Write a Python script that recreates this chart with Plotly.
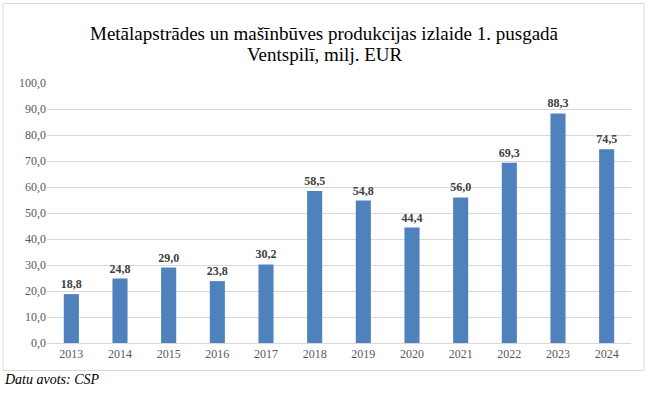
import plotly.graph_objects as go

years = ["2013", "2014", "2015", "2016", "2017", "2018", "2019", "2020", "2021", "2022", "2023", "2024"]
values = [18.8, 24.8, 29.0, 23.8, 30.2, 58.5, 54.8, 44.4, 56.0, 69.3, 88.3, 74.5]
y_ticks = [0, 10, 20, 30, 40, 50, 60, 70, 80, 90, 100]

title_lines = ["Metālapstrādes un mašīnbūves produkcijas izlaide 1. pusgadā", "Ventspilī, milj. EUR"]
source_text = "<i>Datu avots: CSP</i>"

W, H = 650, 393
ML, MR, MT, MB = 47, 19, 83, 50
PW, PH = W - ML - MR, H - MT - MB

def px_x(x):
    return (x - ML) / PW

def px_y(y):
    return (H - MB - y) / PH

SERIF = "Liberation Serif, Times New Roman, serif"

fig = go.Figure(go.Bar(
    x=years, y=values,
    marker=dict(color="#4F81BD", line=dict(width=0)),
    texttemplate="%{y:.1f}", textposition="outside", constraintext="none",
    textfont=dict(family=SERIF, size=12, color="#404040", weight="bold"),
    cliponaxis=False, hoverinfo="skip",
))

annotations = [
    dict(text=title_lines[0], xref="paper", yref="paper", x=px_x(324), y=px_y(33),
         xanchor="center", yanchor="middle", showarrow=False,
         font=dict(family=SERIF, size=19, color="#000000")),
    dict(text=title_lines[1], xref="paper", yref="paper", x=px_x(325), y=px_y(55),
         xanchor="center", yanchor="middle", showarrow=False,
         font=dict(family=SERIF, size=19, color="#000000")),
    dict(text=source_text, xref="paper", yref="paper",
         x=px_x(2), y=px_y(379), xanchor="left", yanchor="middle",
         showarrow=False, font=dict(family=SERIF, size=14, color="#000000")),
]

fig.update_layout(
    width=W, height=H,
    margin=dict(l=ML, r=MR, t=MT, b=MB),
    paper_bgcolor="white", plot_bgcolor="white",
    separators=",.",
    bargap=0.69,
    showlegend=False,
    font=dict(family=SERIF, size=12, color="#595959"),
    xaxis=dict(showgrid=False, showline=True, linecolor="#D9D9D9", linewidth=1,
               ticks="", tickfont=dict(family=SERIF, size=12, color="#595959")),
    yaxis=dict(range=[0, 100], tickvals=y_ticks, tickformat=".1f",
               showgrid=True, gridcolor="#D9D9D9", gridwidth=1, zeroline=False,
               showline=False, ticks="", tickfont=dict(family=SERIF, size=12, color="#595959")),
    shapes=[dict(type="rect", xref="paper", yref="paper",
                 x0=px_x(3), x1=px_x(644), y0=px_y(370.5), y1=px_y(3.5),
                 line=dict(color="#D9D9D9", width=1), fillcolor="rgba(0,0,0,0)", layer="below")],
    annotations=annotations,
)

fig.write_html("out.html",
               config={"displayModeBar": False},
               post_script="document.body.style.margin='0';document.body.style.padding='0';document.body.style.overflow='hidden';")
